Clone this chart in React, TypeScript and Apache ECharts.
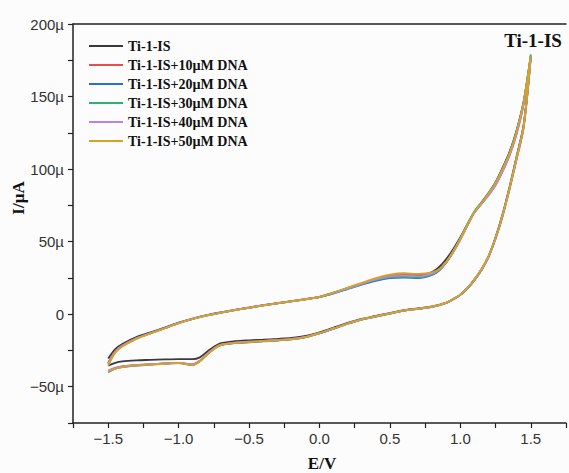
import React, { useEffect, useRef } from "react";
import * as echarts from "echarts";

const SERIES_NAMES = [
  "Ti-1-IS",
  "Ti-1-IS+10µM DNA",
  "Ti-1-IS+20µM DNA",
  "Ti-1-IS+30µM DNA",
  "Ti-1-IS+40µM DNA",
  "Ti-1-IS+50µM DNA",
];
const COLORS = ["#3a3a3a", "#ee4c4c", "#2e6ed4", "#2bb076", "#b983ea", "#d8a325"];

// Forward scan potentials (V)
const E_FWD = [-1.5, -1.45, -1.4, -1.3, -1.2, -1.1, -1.0, -0.9, -0.8, -0.7, -0.6, -0.5, -0.4, -0.3, -0.2, -0.1, 0, 0.1, 0.2, 0.3, 0.4, 0.5, 0.6, 0.7, 0.8, 0.85, 0.9, 0.95, 1.0, 1.05, 1.1, 1.15, 1.2, 1.25, 1.3, 1.35, 1.4, 1.45, 1.5];
// Reverse scan potentials (V)
const E_REV = [1.5, 1.45, 1.4, 1.35, 1.3, 1.25, 1.2, 1.15, 1.1, 1.05, 1.0, 0.95, 0.9, 0.8, 0.7, 0.6, 0.5, 0.4, 0.3, 0.2, 0.1, 0, -0.1, -0.2, -0.3, -0.4, -0.5, -0.6, -0.7, -0.75, -0.8, -0.85, -0.9, -1.0, -1.1, -1.2, -1.3, -1.4, -1.45, -1.5];

// Currents (µA)
const I0_FWD = [-30.5, -24, -20.5, -15.8, -12.6, -9.3, -5.8, -3, -0.6, 1.3, 3, 4.6, 6.2, 7.6, 9, 10.4, 12, 14.8, 18, 21, 24, 26.2, 27, 26.8, 29, 32.5, 38, 45, 53, 62, 70.5, 77, 83.5, 91, 101, 112, 127, 147, 178];
const I0_REV = [178, 131, 109, 88, 69, 53, 40, 31, 24, 18, 13.5, 10.5, 8, 5.3, 4, 2.8, 0.8, -1.2, -3.2, -6, -9.3, -12.5, -15, -16.3, -17, -17.6, -18, -18.6, -20, -22.5, -26, -29.8, -31, -31, -31.2, -31.5, -31.8, -32.5, -33.5, -35.5];

const I10_FWD = [-33.5, -25.5, -21.5, -16.5, -13, -9.6, -6, -3.2, -0.8, 1.1, 2.9, 4.5, 6.1, 7.5, 8.9, 10.3, 11.9, 14.6, 17.8, 21, 24.2, 26.6, 27.6, 27.2, 28.5, 31, 36, 43, 51.5, 61, 70, 76, 82, 89, 98.5, 109.5, 124.5, 145, 177];
const I10_REV = [177, 129, 107, 86.5, 67.5, 52, 39.5, 30.5, 23.5, 17.8, 13.3, 10.3, 7.8, 5, 3.7, 2.5, 0.5, -1.5, -3.6, -6.5, -9.8, -13, -15.6, -17, -17.8, -18.4, -19, -19.6, -21, -23.5, -27.5, -32, -34.5, -33.5, -34, -34.5, -35, -36, -37, -39];

const I20_FWD = [-34, -26, -21.8, -16.6, -13.1, -9.7, -6.1, -3.3, -0.9, 1, 2.8, 4.4, 6, 7.4, 8.8, 10.2, 11.8, 14.3, 17.3, 20.3, 23, 24.8, 25.2, 24.8, 27, 30, 35.5, 43, 52, 61.5, 70.5, 76.5, 83, 90.5, 100, 111, 126, 146, 178];
const I20_REV = [178, 130, 108, 87, 68, 52.5, 39.5, 30.5, 23.5, 17.8, 13.3, 10.3, 7.8, 5, 3.7, 2.5, 0.4, -1.6, -3.7, -6.6, -10, -13.3, -16, -17.4, -18.2, -18.8, -19.4, -20, -21.3, -24, -28, -32.5, -35, -33.8, -34.2, -34.8, -35.5, -36.5, -37.5, -40];

const I30_FWD = [-34.5, -26, -22, -16.8, -13.2, -9.8, -6.2, -3.3, -0.9, 1, 2.8, 4.4, 6, 7.4, 8.8, 10.2, 11.8, 14.4, 17.5, 20.6, 23.4, 25.3, 25.8, 25.3, 27.5, 30.5, 36, 43.5, 52.5, 62, 71, 77, 83.5, 91, 100.5, 111.5, 126.5, 147, 179];
const I30_REV = [179, 130.5, 108.5, 87.5, 68.5, 52.5, 39.5, 30.5, 23.5, 17.8, 13.3, 10.3, 7.8, 5, 3.7, 2.5, 0.4, -1.6, -3.7, -6.6, -10, -13.2, -15.8, -17.2, -18, -18.6, -19.2, -19.8, -21.2, -23.8, -27.8, -32.3, -34.8, -33.6, -34, -34.6, -35.2, -36.2, -37.3, -39.5];

const I40_FWD = [-34, -25.8, -21.8, -16.6, -13.1, -9.7, -6.1, -3.2, -0.8, 1.1, 2.9, 4.5, 6.1, 7.5, 8.9, 10.3, 11.9, 14.6, 17.8, 20.9, 24, 26, 26.6, 26.2, 28, 30.8, 35.8, 43, 51.5, 61, 70, 76, 82, 89, 98.5, 109.5, 124.5, 145.5, 177];
const I40_REV = [177, 129.5, 107.5, 87, 68, 52, 39.5, 30.5, 23.5, 17.8, 13.3, 10.3, 7.8, 5, 3.7, 2.5, 0.5, -1.5, -3.6, -6.5, -9.8, -13, -15.6, -17, -17.8, -18.4, -19, -19.6, -21, -23.6, -27.6, -32.2, -34.6, -33.6, -34, -34.5, -35, -36, -37, -39];

const I50_FWD = [-35.5, -26.5, -22.3, -17, -13.3, -9.8, -6.2, -3.3, -0.9, 1, 2.8, 4.4, 6, 7.5, 8.9, 10.3, 12, 14.9, 18.3, 21.6, 24.8, 27.2, 28.2, 27.8, 28.8, 31, 36, 43.5, 52, 61.5, 70.5, 76.5, 83, 90.5, 100, 111, 126, 146.5, 178];
const I50_REV = [178, 130, 108, 87, 68, 52.5, 40, 31, 24, 18, 13.5, 10.5, 8, 5.2, 3.8, 2.6, 0.5, -1.5, -3.6, -6.5, -9.8, -13, -15.8, -17.3, -18, -18.6, -19.2, -19.8, -21.2, -24, -28, -32.5, -35, -33.8, -34.2, -34.8, -35.3, -36.5, -37.5, -39.5];

const CURRENTS = [
  [I0_FWD, I0_REV],
  [I10_FWD, I10_REV],
  [I20_FWD, I20_REV],
  [I30_FWD, I30_REV],
  [I40_FWD, I40_REV],
  [I50_FWD, I50_REV],
];

const TITLE = "Ti-1-IS";
const X_NAME = "E/V";
const Y_NAME = "I/µA";

const SERIF = "'Liberation Serif', 'Times New Roman', serif";
const SANS = "'Liberation Sans', Arial, sans-serif";

export default function App() {
  const ref = useRef<HTMLDivElement>(null);
  useEffect(() => {
    if (!ref.current) return;
    const chart = echarts.init(ref.current, undefined, { renderer: "svg" });
    const series = SERIES_NAMES.map((name, k) => {
      const [fwd, rev] = CURRENTS[k];
      const data: number[][] = [];
      E_FWD.forEach((e, i) => data.push([e, fwd[i]]));
      E_REV.forEach((e, i) => data.push([e, rev[i]]));
      return {
        name,
        type: "line",
        data,
        showSymbol: false,
        symbol: "none",
        smooth: 0.3,
        lineStyle: { width: 1.8, color: COLORS[k] },
        itemStyle: { color: COLORS[k] },
      };
    });
    const xFmt = (v: number) => {
      const r = Math.round(v * 100) / 100;
      if (Math.abs(Math.round(r * 2) - r * 2) > 1e-6) return "";
      if (Math.abs(r) > 1.6) return "";
      return (r < 0 ? "\u2212" : "") + Math.abs(r).toFixed(1);
    };
    const yFmt = (v: number) => {
      if (Math.abs(v % 50) > 1e-6) return "";
      if (v === 0) return "0";
      return (v < 0 ? "\u2212" : "") + Math.abs(v) + "µ";
    };
    chart.setOption({
      animation: false,
      backgroundColor: "#fcfcfc",
      grid: { left: 73, right: 0, top: 24, bottom: 50, containLabel: false },
      legend: {
        orient: "vertical",
        left: 84,
        top: 33,
        icon: "rect",
        itemWidth: 34,
        itemHeight: 2,
        itemGap: 3,
        textStyle: { fontFamily: SERIF, fontWeight: "bold", fontSize: 14, lineHeight: 16, color: "#111" },
        data: SERIES_NAMES,
      },
      xAxis: [
        {
          type: "value",
          position: "bottom",
          min: -1.75,
          max: 1.75,
          interval: 0.25,
          splitLine: { show: false },
          axisLine: { onZero: false, lineStyle: { color: "#222", width: 1.5 } },
          axisTick: { length: 5, lineStyle: { color: "#222", width: 1.2 } },
          axisLabel: { formatter: xFmt, fontFamily: SANS, fontSize: 15, color: "#333", margin: 8 },
        },
        {
          type: "value",
          position: "top",
          min: -1.75,
          max: 1.75,
          splitLine: { show: false },
          axisLine: { onZero: false, lineStyle: { color: "#222", width: 1.5 } },
          axisTick: { show: false },
          axisLabel: { show: false },
        },
      ],
      yAxis: {
        type: "value",
        position: "left",
        min: -75,
        max: 200,
        interval: 25,
        splitLine: { show: false },
        axisLine: { show: true, onZero: false, lineStyle: { color: "#222", width: 1.5 } },
        axisTick: { show: true, length: 5, lineStyle: { color: "#222", width: 1.2 } },
        axisLabel: { formatter: yFmt, fontFamily: SANS, fontSize: 15, color: "#333", margin: 9 },
      },
      graphic: [
        {
          type: "text",
          x: 533,
          y: 40,
          style: { text: TITLE, font: `bold 19px ${SERIF}`, fill: "#111", align: "center", verticalAlign: "middle" },
        },
        {
          type: "text",
          x: 322,
          y: 463,
          style: { text: X_NAME, font: `bold 17px ${SERIF}`, fill: "#111", align: "center", verticalAlign: "middle" },
        },
        {
          type: "text",
          x: 18,
          y: 198,
          rotation: Math.PI / 2,
          style: { text: Y_NAME, font: `bold 17px ${SERIF}`, fill: "#111", align: "center", verticalAlign: "middle" },
        },
      ],
      series,
    });
    return () => chart.dispose();
  }, []);
  return <div ref={ref} style={{ position: "fixed", left: 0, top: 0, width: 569, height: 473 }} />;
}
